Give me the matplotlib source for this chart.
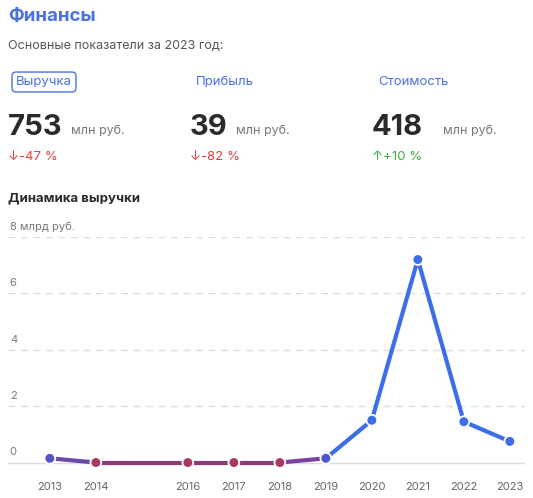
import matplotlib.pyplot as plt

years = [2013, 2014, 2016, 2017, 2018, 2019, 2020, 2021, 2022, 2023]
revenue = [0.15, 0.0, 0.0, 0.0, 0.0, 0.15, 1.5, 7.2, 1.45, 0.75]
y_ticks = [0, 2, 4, 6, 8]
y_tick_labels = ['0', '2', '4', '6', '8 млрд руб.']

metrics = ['Выручка', 'Прибыль', 'Стоимость']
metric_values = ['753', '39', '418']
metric_changes = ['↓-47 %', '↓-82 %', '↑+10 %']

W, H = 533, 498
fig = plt.figure(figsize=(W / 100, H / 100), dpi=100)
plt.rcParams['font.family'] = ['Inter', 'DejaVu Sans']

def px(x, y):
    return x / W, 1 - y / H

blue = '#3b6ee8'
fig.text(*px(8, 17), 'Финансы', fontsize=13.5, fontweight='bold', color='#4a72e0', va='center')
fig.text(*px(8, 46), 'Основные показатели за 2023 год:', fontsize=9, color='#555555', va='center')

col_x = [8, 190, 372]
for i, (m, v, c) in enumerate(zip(metrics, metric_values, metric_changes)):
    x = col_x[i]
    kw = {}
    if i == 0:
        kw['bbox'] = dict(boxstyle='round,pad=0.3,rounding_size=0.3', fc='white', ec='#4a72e0', lw=1)
    fig.text(*px(x + (8 if i == 0 else 6), 82), m, fontsize=9.5, color='#4a72e0', va='center', **kw)
    t = fig.text(*px(x, 127), v, fontsize=21, fontweight='bold', color='#2a2a2a', va='center')
    off = {0: 63, 1: 46, 2: 71}[i]
    fig.text(*px(x + off, 131), 'млн руб.', fontsize=9, color='#777777', va='center')
    col = '#e04040' if c.startswith('↓') else '#3cb043'
    fig.text(*px(x, 157), c, fontsize=9.5, color=col, va='center')

fig.text(*px(8, 198), 'Динамика выручки', fontsize=9.5, fontweight='bold', color='#2a2a2a', va='center')

ax = fig.add_axes([8 / W, (H - 471) / H, (525 - 8) / W, (471 - 237) / H])
ax.set_xlim(2012.09, 2023.33)
ax.set_ylim(-0.3, 8)
for s in ax.spines.values():
    s.set_visible(False)
ax.set_yticks([])
ax.set_xticks(years)
ax.set_xticklabels([str(y) for y in years], fontsize=8, color='#666666')
ax.tick_params(axis='x', length=0, pad=8)

for t, lab in zip(y_ticks, y_tick_labels):
    if t == 0:
        ax.axhline(0, color='#dddddd', lw=1, zorder=0)
    else:
        ax.axhline(t, color='#dddddd', lw=1, ls=(0, (5, 4)), zorder=0)
    ax.text(2012.13, t + 0.18, lab, fontsize=8, color='#777777', va='bottom')

seg_colors = ['#6a4aa8', '#8a3a78', '#8a3a78', '#8a3a78', '#7a42a0', blue, blue, blue, blue]
for i in range(len(years) - 1):
    ax.plot(years[i:i + 2], revenue[i:i + 2], color=seg_colors[i], lw=3,
            solid_capstyle='round', zorder=2)
mk_colors = ['#5552c8', '#a83a62', '#a83a62', '#a83a62', '#a83a62', '#4a58d0',
             blue, blue, blue, blue]
ax.scatter(years, revenue, s=60, c=mk_colors, edgecolors='white', linewidths=1.3, zorder=3)

fig.savefig('out.png', dpi=100)
